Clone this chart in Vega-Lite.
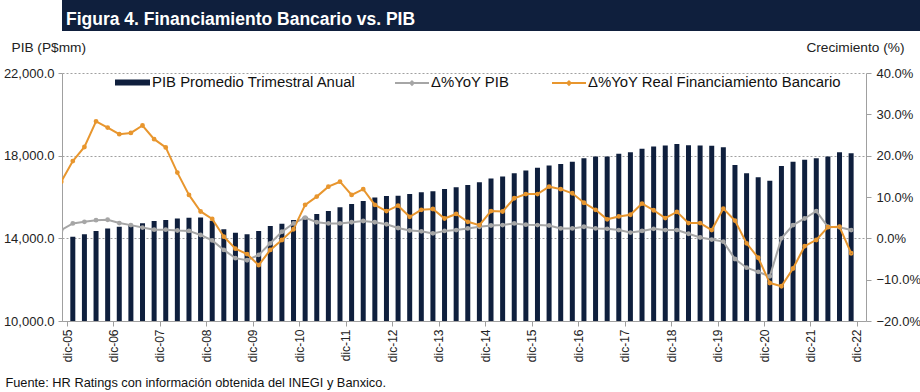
{
  "$schema": "https://vega.github.io/schema/vega-lite/v6.json",
  "padding": {"left": 3, "top": 0, "right": 0, "bottom": 0},
  "background": "white",
  "config": {
    "font": "Liberation Sans",
    "view": {"stroke": null},
    "concat": {"spacing": 9}
  },
  "title": {
    "text": "Fuente: HR Ratings con información obtenida del INEGI y Banxico.",
    "orient": "bottom",
    "anchor": "start",
    "frame": "bounds",
    "fontSize": 12.8,
    "fontWeight": "normal",
    "color": "#111111",
    "baseline": "top",
    "offset": 15,
    "dx": 2
  },
  "datasets": {
    "d": [
      {"periodo": "sep-05", "q": -1, "pib": null, "Δ%YoY PIB": 2.0, "Δ%YoY Real Financiamiento Bancario": 13.7},
      {"periodo": "dic-05", "q": 0, "pib": 14080, "Δ%YoY PIB": 3.6, "Δ%YoY Real Financiamiento Bancario": 18.7},
      {"periodo": "mar-06", "q": 1, "pib": 14200, "Δ%YoY PIB": 4.0, "Δ%YoY Real Financiamiento Bancario": 22.1},
      {"periodo": "jun-06", "q": 2, "pib": 14350, "Δ%YoY PIB": 4.4, "Δ%YoY Real Financiamiento Bancario": 28.3},
      {"periodo": "sep-06", "q": 3, "pib": 14475, "Δ%YoY PIB": 4.5, "Δ%YoY Real Financiamiento Bancario": 26.8},
      {"periodo": "dic-06", "q": 4, "pib": 14565, "Δ%YoY PIB": 3.7, "Δ%YoY Real Financiamiento Bancario": 25.2},
      {"periodo": "mar-07", "q": 5, "pib": 14650, "Δ%YoY PIB": 3.2, "Δ%YoY Real Financiamiento Bancario": 25.5},
      {"periodo": "jun-07", "q": 6, "pib": 14730, "Δ%YoY PIB": 2.6, "Δ%YoY Real Financiamiento Bancario": 27.3},
      {"periodo": "sep-07", "q": 7, "pib": 14840, "Δ%YoY PIB": 2.1, "Δ%YoY Real Financiamiento Bancario": 24.0},
      {"periodo": "dic-07", "q": 8, "pib": 14890, "Δ%YoY PIB": 2.1, "Δ%YoY Real Financiamiento Bancario": 22.0},
      {"periodo": "mar-08", "q": 9, "pib": 14960, "Δ%YoY PIB": 1.9, "Δ%YoY Real Financiamiento Bancario": 15.9},
      {"periodo": "jun-08", "q": 10, "pib": 15000, "Δ%YoY PIB": 1.8, "Δ%YoY Real Financiamiento Bancario": 10.5},
      {"periodo": "sep-08", "q": 11, "pib": 15010, "Δ%YoY PIB": 0.8, "Δ%YoY Real Financiamiento Bancario": 6.5},
      {"periodo": "dic-08", "q": 12, "pib": 14850, "Δ%YoY PIB": -0.5, "Δ%YoY Real Financiamiento Bancario": 4.7},
      {"periodo": "mar-09", "q": 13, "pib": 14440, "Δ%YoY PIB": -2.8, "Δ%YoY Real Financiamiento Bancario": 0.4},
      {"periodo": "jun-09", "q": 14, "pib": 14270, "Δ%YoY PIB": -4.8, "Δ%YoY Real Financiamiento Bancario": -2.5},
      {"periodo": "sep-09", "q": 15, "pib": 14200, "Δ%YoY PIB": -5.3, "Δ%YoY Real Financiamiento Bancario": -3.8},
      {"periodo": "dic-09", "q": 16, "pib": 14350, "Δ%YoY PIB": -4.0, "Δ%YoY Real Financiamiento Bancario": -6.5},
      {"periodo": "mar-10", "q": 17, "pib": 14600, "Δ%YoY PIB": -1.2, "Δ%YoY Real Financiamiento Bancario": -2.8},
      {"periodo": "jun-10", "q": 18, "pib": 14710, "Δ%YoY PIB": 1.6, "Δ%YoY Real Financiamiento Bancario": -0.4},
      {"periodo": "sep-10", "q": 19, "pib": 14890, "Δ%YoY PIB": 3.6, "Δ%YoY Real Financiamiento Bancario": 2.2},
      {"periodo": "dic-10", "q": 20, "pib": 15050, "Δ%YoY PIB": 5.0, "Δ%YoY Real Financiamiento Bancario": 8.1},
      {"periodo": "mar-11", "q": 21, "pib": 15180, "Δ%YoY PIB": 3.9, "Δ%YoY Real Financiamiento Bancario": 10.1},
      {"periodo": "jun-11", "q": 22, "pib": 15320, "Δ%YoY PIB": 3.6, "Δ%YoY Real Financiamiento Bancario": 12.5},
      {"periodo": "sep-11", "q": 23, "pib": 15500, "Δ%YoY PIB": 3.6, "Δ%YoY Real Financiamiento Bancario": 13.7},
      {"periodo": "dic-11", "q": 24, "pib": 15660, "Δ%YoY PIB": 3.9, "Δ%YoY Real Financiamiento Bancario": 10.5},
      {"periodo": "mar-12", "q": 25, "pib": 15810, "Δ%YoY PIB": 4.2, "Δ%YoY Real Financiamiento Bancario": 11.9},
      {"periodo": "jun-12", "q": 26, "pib": 15970, "Δ%YoY PIB": 3.9, "Δ%YoY Real Financiamiento Bancario": 8.1},
      {"periodo": "sep-12", "q": 27, "pib": 16050, "Δ%YoY PIB": 3.4, "Δ%YoY Real Financiamiento Bancario": 6.6},
      {"periodo": "dic-12", "q": 28, "pib": 16065, "Δ%YoY PIB": 2.5, "Δ%YoY Real Financiamiento Bancario": 7.9},
      {"periodo": "mar-13", "q": 29, "pib": 16150, "Δ%YoY PIB": 1.9, "Δ%YoY Real Financiamiento Bancario": 5.2},
      {"periodo": "jun-13", "q": 30, "pib": 16230, "Δ%YoY PIB": 1.7, "Δ%YoY Real Financiamiento Bancario": 6.9},
      {"periodo": "sep-13", "q": 31, "pib": 16280, "Δ%YoY PIB": 1.2, "Δ%YoY Real Financiamiento Bancario": 7.1},
      {"periodo": "dic-13", "q": 32, "pib": 16390, "Δ%YoY PIB": 1.8, "Δ%YoY Real Financiamiento Bancario": 4.8},
      {"periodo": "mar-14", "q": 33, "pib": 16470, "Δ%YoY PIB": 2.0, "Δ%YoY Real Financiamiento Bancario": 5.9},
      {"periodo": "jun-14", "q": 34, "pib": 16580, "Δ%YoY PIB": 2.4, "Δ%YoY Real Financiamiento Bancario": 4.0},
      {"periodo": "sep-14", "q": 35, "pib": 16715, "Δ%YoY PIB": 2.8, "Δ%YoY Real Financiamiento Bancario": 3.2},
      {"periodo": "dic-14", "q": 36, "pib": 16890, "Δ%YoY PIB": 3.1, "Δ%YoY Real Financiamiento Bancario": 6.6},
      {"periodo": "mar-15", "q": 37, "pib": 16990, "Δ%YoY PIB": 3.2, "Δ%YoY Real Financiamiento Bancario": 6.5},
      {"periodo": "jun-15", "q": 38, "pib": 17150, "Δ%YoY PIB": 3.6, "Δ%YoY Real Financiamiento Bancario": 9.7},
      {"periodo": "sep-15", "q": 39, "pib": 17280, "Δ%YoY PIB": 3.3, "Δ%YoY Real Financiamiento Bancario": 10.7},
      {"periodo": "dic-15", "q": 40, "pib": 17410, "Δ%YoY PIB": 3.2, "Δ%YoY Real Financiamiento Bancario": 10.7},
      {"periodo": "mar-16", "q": 41, "pib": 17520, "Δ%YoY PIB": 3.1, "Δ%YoY Real Financiamiento Bancario": 12.5},
      {"periodo": "jun-16", "q": 42, "pib": 17600, "Δ%YoY PIB": 2.4, "Δ%YoY Real Financiamiento Bancario": 11.9},
      {"periodo": "sep-16", "q": 43, "pib": 17710, "Δ%YoY PIB": 2.4, "Δ%YoY Real Financiamiento Bancario": 10.9},
      {"periodo": "dic-16", "q": 44, "pib": 17880, "Δ%YoY PIB": 2.8, "Δ%YoY Real Financiamiento Bancario": 8.6},
      {"periodo": "mar-17", "q": 45, "pib": 17955, "Δ%YoY PIB": 2.4, "Δ%YoY Real Financiamiento Bancario": 6.9},
      {"periodo": "jun-17", "q": 46, "pib": 17960, "Δ%YoY PIB": 2.3, "Δ%YoY Real Financiamiento Bancario": 4.6},
      {"periodo": "sep-17", "q": 47, "pib": 18090, "Δ%YoY PIB": 2.0, "Δ%YoY Real Financiamiento Bancario": 5.3},
      {"periodo": "dic-17", "q": 48, "pib": 18170, "Δ%YoY PIB": 1.4, "Δ%YoY Real Financiamiento Bancario": 5.7},
      {"periodo": "mar-18", "q": 49, "pib": 18330, "Δ%YoY PIB": 1.8, "Δ%YoY Real Financiamiento Bancario": 8.4},
      {"periodo": "jun-18", "q": 50, "pib": 18440, "Δ%YoY PIB": 2.3, "Δ%YoY Real Financiamiento Bancario": 6.8},
      {"periodo": "sep-18", "q": 51, "pib": 18490, "Δ%YoY PIB": 2.0, "Δ%YoY Real Financiamiento Bancario": 4.9},
      {"periodo": "dic-18", "q": 52, "pib": 18570, "Δ%YoY PIB": 2.0, "Δ%YoY Real Financiamiento Bancario": 6.4},
      {"periodo": "mar-19", "q": 53, "pib": 18510, "Δ%YoY PIB": 1.1, "Δ%YoY Real Financiamiento Bancario": 3.7},
      {"periodo": "jun-19", "q": 54, "pib": 18490, "Δ%YoY PIB": 0.2, "Δ%YoY Real Financiamiento Bancario": 3.7},
      {"periodo": "sep-19", "q": 55, "pib": 18475, "Δ%YoY PIB": -0.3, "Δ%YoY Real Financiamiento Bancario": 2.0},
      {"periodo": "dic-19", "q": 56, "pib": 18410, "Δ%YoY PIB": -0.8, "Δ%YoY Real Financiamiento Bancario": 7.2},
      {"periodo": "mar-20", "q": 57, "pib": 17550, "Δ%YoY PIB": -5.0, "Δ%YoY Real Financiamiento Bancario": 4.3},
      {"periodo": "jun-20", "q": 58, "pib": 17150, "Δ%YoY PIB": -7.1, "Δ%YoY Real Financiamiento Bancario": -1.2},
      {"periodo": "sep-20", "q": 59, "pib": 16960, "Δ%YoY PIB": -8.1, "Δ%YoY Real Financiamiento Bancario": -4.7},
      {"periodo": "dic-20", "q": 60, "pib": 16790, "Δ%YoY PIB": -9.2, "Δ%YoY Real Financiamiento Bancario": -10.8},
      {"periodo": "mar-21", "q": 61, "pib": 17500, "Δ%YoY PIB": 0.0, "Δ%YoY Real Financiamiento Bancario": -11.6},
      {"periodo": "jun-21", "q": 62, "pib": 17710, "Δ%YoY PIB": 3.2, "Δ%YoY Real Financiamiento Bancario": -7.3},
      {"periodo": "sep-21", "q": 63, "pib": 17800, "Δ%YoY PIB": 4.8, "Δ%YoY Real Financiamiento Bancario": -1.9},
      {"periodo": "dic-21", "q": 64, "pib": 17880, "Δ%YoY PIB": 6.6, "Δ%YoY Real Financiamiento Bancario": -0.4},
      {"periodo": "mar-22", "q": 65, "pib": 17960, "Δ%YoY PIB": 2.8, "Δ%YoY Real Financiamiento Bancario": 2.7},
      {"periodo": "jun-22", "q": 66, "pib": 18170, "Δ%YoY PIB": 2.7, "Δ%YoY Real Financiamiento Bancario": 2.8},
      {"periodo": "sep-22", "q": 67, "pib": 18120, "Δ%YoY PIB": 2.0, "Δ%YoY Real Financiamiento Bancario": -3.6}
    ]
  },
  "vconcat": [
    {
      "width": 917,
      "height": 31,
      "view": {"fill": "#0F1F3D", "stroke": null},
      "title": {
        "text": "Figura 4. Financiamiento Bancario vs. PIB",
        "orient": "top",
        "anchor": "start",
        "frame": "group",
        "offset": -42.5,
        "baseline": "alphabetic",
        "dx": 4,
        "color": "#FFFFFF",
        "fontSize": 17.5,
        "fontWeight": "bold"
      },
      "data": {"values": [{"k": 1}]},
      "mark": {"type": "rect", "color": "#0F1F3D"},
      "encoding": {}
    },
    {
      "width": 804,
      "height": 248,
      "data": {"name": "d"},
      "encoding": {
        "x": {
          "field": "q",
          "type": "quantitative",
          "scale": {"domain": [-0.5, 67.85], "nice": false, "zero": false},
          "axis": {
            "values": [-0.5, 3.5, 7.5, 11.5, 15.5, 19.5, 23.5, 27.5, 31.5, 35.5, 39.5, 43.5, 47.5, 51.5, 55.5, 59.5, 63.5, 67.5],
            "labelExpr": "'dic-' + (((datum.value + 0.5) / 4 + 5) < 10 ? '0' : '') + ((datum.value + 0.5) / 4 + 5)",
            "labelAngle": 270,
            "labelFontSize": 12,
            "labelColor": "#222222",
            "labelFlush": false,
            "labelOverlap": false,
            "labelBound": false,
            "labelPadding": 3,
            "grid": false,
            "domainColor": "#A0A0A0",
            "tickColor": "#A0A0A0",
            "tickSize": 5,
            "title": null
          }
        }
      },
      "layer": [
        {
          "mark": {"type": "bar", "width": 5, "orient": "vertical", "clip": true},
          "encoding": {
            "y": {
              "field": "pib",
              "type": "quantitative",
              "scale": {"domain": [10000, 22000], "zero": false, "nice": false},
              "axis": {
                "orient": "left",
                "values": [10000, 14000, 18000, 22000],
                "format": ",.1f",
                "title": "PIB (P$mm)",
                "titleAngle": 0,
                "titleAlign": "left",
                "titleBaseline": "middle",
                "titleX": -51,
                "titleY": -26,
                "titleFontSize": 13.7,
                "titleFontWeight": "normal",
                "titleColor": "#222222",
                "labelFontSize": 13,
                "labelColor": "#222222",
                "labelPadding": 4,
                "grid": true,
                "gridDash": [2, 2],
                "gridColor": "#A0A0A0",
                "domainColor": "#A0A0A0",
                "tickColor": "#A0A0A0",
                "tickSize": 4
              }
            },
            "color": {
              "datum": "PIB Promedio Trimestral Anual",
              "scale": {"range": ["#0F1F3D"]},
              "legend": {
                "orient": "none",
                "legendX": 53,
                "legendY": 65,
                "title": null,
                "padding": 0,
                "symbolType": "M-1,-0.17H1V0.17H-1Z",
                "symbolSize": 1225,
                "symbolStrokeWidth": 0,
                "labelFontSize": 14.9,
                "labelColor": "#111111",
                "labelOffset": 2,
                "labelLimit": 400
              }
            }
          }
        },
        {
          "transform": [
            {"fold": ["Δ%YoY PIB", "Δ%YoY Real Financiamiento Bancario"], "as": ["serie", "valor"]}
          ],
          "mark": {
            "type": "line",
            "strokeWidth": 2,
            "clip": true,
            "point": {"filled": false, "size": 8, "strokeWidth": 2, "clip": true}
          },
          "encoding": {
            "y": {
              "field": "valor",
              "type": "quantitative",
              "scale": {"domain": [-20, 40], "zero": false, "nice": false},
              "axis": {
                "orient": "right",
                "values": [-20, -10, 0, 10, 20, 30, 40],
                "labelExpr": "format(datum.value, '.1f') + '%'",
                "title": "Crecimiento (%)",
                "titleAngle": 0,
                "titleAlign": "right",
                "titleBaseline": "middle",
                "titleX": 38,
                "titleY": -26,
                "titleFontSize": 13.7,
                "titleFontWeight": "normal",
                "titleColor": "#222222",
                "labelFontSize": 13,
                "labelColor": "#222222",
                "labelPadding": 5,
                "grid": false,
                "domainColor": "#A0A0A0",
                "tickColor": "#A0A0A0",
                "tickSize": 5
              }
            },
            "stroke": {
              "field": "serie",
              "type": "nominal",
              "scale": {
                "domain": ["Δ%YoY PIB", "Δ%YoY Real Financiamiento Bancario"],
                "range": ["#A6A6A6", "#E8962E"]
              },
              "legend": {
                "orient": "none",
                "legendX": 332,
                "legendY": 65,
                "direction": "horizontal",
                "title": null,
                "padding": 0,
                "symbolType": "M-1,0H1M0,-0.1L0.1,0L0,0.1L-0.1,0Z",
                "symbolSize": 1156,
                "symbolStrokeWidth": 2,
                "labelFontSize": 14.9,
                "labelColor": "#111111",
                "labelOffset": 1,
                "labelLimit": 400,
                "columnPadding": 38
              }
            }
          }
        }
      ],
      "resolve": {"scale": {"y": "independent"}}
    }
  ]
}
